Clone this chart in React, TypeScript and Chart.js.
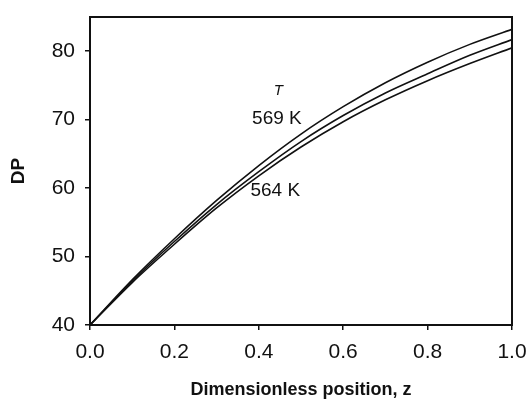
import React, { useEffect, useRef } from "react";
import { Chart, registerables } from "chart.js";

Chart.register(...registerables);

// Dimensionless position z
const zValues = [0, 0.1, 0.2, 0.3, 0.4, 0.5, 0.6, 0.7, 0.8, 0.9, 1.0];
// DP curves (top = 569 K, bottom = 564 K)
const dp569 = [40, 46.6, 52.6, 58.2, 63.3, 67.9, 71.9, 75.4, 78.4, 81.0, 83.2];
const dpMid = [40, 46.4, 52.2, 57.6, 62.4, 66.8, 70.6, 73.9, 76.7, 79.4, 81.7];
const dp564 = [40, 46.2, 51.8, 57.1, 61.8, 66.0, 69.7, 72.9, 75.7, 78.2, 80.5];

const xTicks = [0, 0.2, 0.4, 0.6, 0.8, 1.0];
const yTicks = [40, 50, 60, 70, 80];

// annotation texts with their data coordinates
const noteTexts = ["T", "569 K", "564 K"];
const noteZ = [0.446, 0.443, 0.439];
const noteDP = [74.2, 70.1, 59.6];

const FONT = "'Liberation Sans', Arial, Helvetica, sans-serif";

const framePlugin = {
  id: "frame",
  afterDatasetsDraw(chart: any) {
    const { ctx, chartArea } = chart;
    ctx.save();
    ctx.strokeStyle = "#111";
    ctx.lineWidth = 2;
    ctx.strokeRect(
      chartArea.left,
      chartArea.top,
      chartArea.right - chartArea.left,
      chartArea.bottom - chartArea.top
    );
    const xs = chart.scales.x;
    const ys = chart.scales.y;
    ctx.fillStyle = "#111";
    ctx.textAlign = "center";
    ctx.textBaseline = "middle";
    noteTexts.forEach((t, i) => {
      ctx.font = t === "T" ? `italic 15px ${FONT}` : `19px ${FONT}`;
      ctx.fillText(t, xs.getPixelForValue(noteZ[i]), ys.getPixelForValue(noteDP[i]));
    });
    ctx.restore();
  },
};

export default function App() {
  const ref = useRef<HTMLCanvasElement | null>(null);

  useEffect(() => {
    if (!ref.current) return;
    const mk = (label: string, data: number[]) => ({
      label,
      data: zValues.map((z, i) => ({ x: z, y: data[i] })),
      borderColor: "#111",
      borderWidth: 1.6,
      pointRadius: 0,
      fill: false,
      cubicInterpolationMode: "monotone" as const,
    });
    const chart = new Chart(ref.current, {
      type: "line",
      data: {
        datasets: [mk("569 K", dp569), mk("566 K", dpMid), mk("564 K", dp564)],
      },
      options: {
        animation: false,
        responsive: false,
        layout: { padding: { top: 17, right: 16, left: 0, bottom: 0 } },
        plugins: { legend: { display: false }, tooltip: { enabled: false } },
        scales: {
          x: {
            type: "linear",
            min: 0,
            max: 1,
            afterBuildTicks: (s: any) => {
              s.ticks = xTicks.map((v) => ({ value: v }));
            },
            afterFit: (s: any) => {
              s.height = 83;
              s.paddingLeft = 0;
              s.paddingRight = 0;
            },
            ticks: {
              callback: (v: any) => Number(v).toFixed(1),
              font: { family: FONT, size: 21 },
              color: "#111",
              padding: 10,
              maxRotation: 0,
            },
            grid: {
              display: true,
              drawOnChartArea: false,
              drawTicks: true,
              tickLength: 5,
              color: "#111",
              lineWidth: 1.5,
            },
            border: { display: false },
            title: {
              display: true,
              text: "Dimensionless position, z",
              font: { family: FONT, size: 18, weight: "bold" },
              color: "#111",
              padding: { top: 0, bottom: 7 },
            },
          },
          y: {
            type: "linear",
            min: 40,
            max: 85,
            afterBuildTicks: (s: any) => {
              s.ticks = yTicks.map((v) => ({ value: v }));
            },
            afterFit: (s: any) => {
              s.width = 90;
              s.paddingTop = 0;
              s.paddingBottom = 0;
            },
            ticks: {
              font: { family: FONT, size: 21 },
              color: "#111",
              padding: 10,
            },
            grid: {
              display: true,
              drawOnChartArea: false,
              drawTicks: true,
              tickLength: 5,
              color: "#111",
              lineWidth: 1.5,
            },
            border: { display: false },
            title: {
              display: true,
              text: "DP",
              font: { family: FONT, size: 19, weight: "bold" },
              color: "#111",
              padding: { top: 7, bottom: 0 },
            },
          },
        },
      },
      plugins: [framePlugin],
    });
    return () => chart.destroy();
  }, []);

  return (
    <div style={{ position: "fixed", left: 0, top: 0, width: 528, height: 408, background: "#fff" }}>
      <canvas ref={ref} width={528} height={408} />
    </div>
  );
}
